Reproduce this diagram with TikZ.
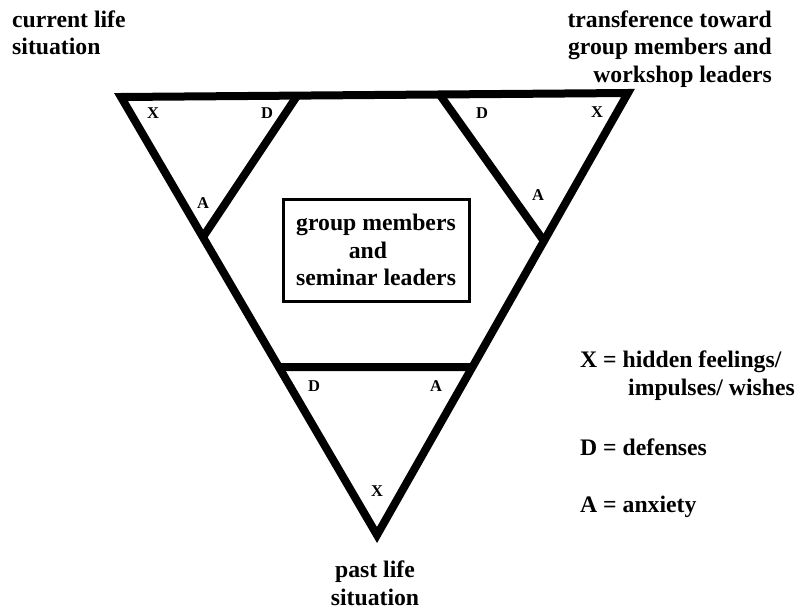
\documentclass[tikz,border=0pt]{standalone}
\usepackage{fontspec}
\setmainfont{Liberation Serif}
\usetikzlibrary{calc}
\begin{document}
\begin{tikzpicture}[x=1pt,y=-1pt,
  edge/.style={line width=8pt,line join=miter},
  bigtext/.style={font=\fontsize{23.7}{27.3}\selectfont\bfseries,inner sep=0pt},
  smalltext/.style={font=\fontsize{16.5}{18}\selectfont\bfseries,inner sep=0pt}]
\useasboundingbox (0,0) rectangle (798,610);
% outer triangle vertices
\coordinate (TL) at (121,97);
\coordinate (TR) at (628,93);
\coordinate (B) at (377,535);
% inner division points
\coordinate (P1) at (297,96);
\coordinate (Q1) at ($(TL)!0.32!(B)$);
\coordinate (P2) at (440,95);
\coordinate (Q2) at ($(TR)!0.335!(B)$);
\coordinate (L3) at ($(TL)!0.617!(B)$);
\coordinate (R3) at ($(TR)!0.62!(B)$);
\draw[edge] (TL) -- (TR) -- (B) -- cycle;
\draw[edge] (P1) -- (Q1);
\draw[edge] (P2) -- (Q2);
\draw[edge] (L3) -- (R3);
% centre box
\node[bigtext,draw,line width=3pt,minimum width=186pt,minimum height=102pt,align=center] (box) at (376,250)
  {group members\\and\rule{16pt}{0pt}\\seminar leaders};
% corner labels
\node[smalltext] (x1) at (153,113) {X};
\node[smalltext] (d1) at (267,113) {D};
\node[smalltext] (a1) at (203,203) {A};
\node[smalltext] (d2) at (482,113) {D};
\node[smalltext] (x2) at (597,112) {X};
\node[smalltext] (a2) at (538,195) {A};
\node[smalltext] (d3) at (314,386) {D};
\node[smalltext] (a3) at (436,386) {A};
\node[smalltext] (x3) at (377,491) {X};
% outer captions (base anchor = baseline of last line)
\node[bigtext,anchor=base west,align=left] (cur) at (12,55) {current life\\situation};
\node[bigtext,anchor=base east,align=right] (trans) at (772,82) {transference toward\\group members and\\workshop leaders};
\node[bigtext,anchor=base,align=center] (past) at (375,605) {past life\\situation};
% legend
\node[bigtext,anchor=base west,align=left] (legx) at (580,395) {X = hidden feelings/\\\rule{48pt}{0pt}impulses/ wishes};
\node[bigtext,anchor=base west] (legd) at (580,455) {D = defenses};
\node[bigtext,anchor=base west] (lega) at (580,512) {A = anxiety};
\end{tikzpicture}
\end{document}
